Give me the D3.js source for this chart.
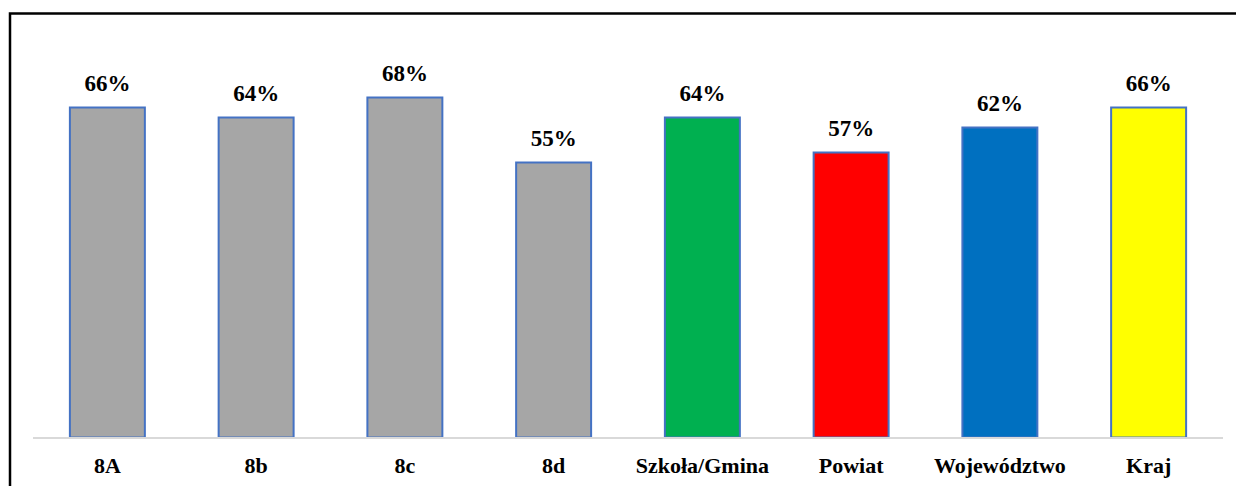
<!DOCTYPE html>
<html>
<head>
<meta charset="utf-8">
<script src="https://cdn.jsdelivr.net/npm/d3@7"></script>
<style>
  body { margin: 0; background: #fff; }
</style>
</head>
<body>
<script>
  const categories = ["8A", "8b", "8c", "8d", "Szkoła/Gmina", "Powiat", "Województwo", "Kraj"];
  const values = [0.66, 0.64, 0.68, 0.55, 0.64, 0.57, 0.62, 0.66];
  const colors = ["#a6a6a6", "#a6a6a6", "#a6a6a6", "#a6a6a6", "#00b050", "#ff0000", "#0070c0", "#ffff00"];

  const w = 1236;
  const h = 486;
  const font = "'Liberation Serif', 'Times New Roman', Times, 'DejaVu Serif', serif";

  const svg = d3.select("body")
                .append("svg")
                .attr("width", w)
                .attr("height", h);

  // chart frame (only top and left edges fall inside the picture)
  svg.append("path")
     .attr("d", `M10,${h} V13.5 H${w}`)
     .attr("fill", "none")
     .attr("stroke", "#000")
     .attr("stroke-width", 2.5);

  const x = d3.scaleBand()
              .domain(categories)
              .range([33, 1223])
              .paddingInner(0.496)
              .paddingOuter(0.248);

  const y = d3.scaleLinear()
              .domain([0, 0.8])
              .range([437.5, 37.5]);

  const data = categories.map((c, i) => ({ cat: c, val: values[i], color: colors[i] }));

  svg.selectAll("rect.bar")
     .data(data)
     .enter()
     .append("rect")
     .attr("class", "bar")
     .attr("x", d => x(d.cat))
     .attr("y", d => y(d.val))
     .attr("width", x.bandwidth())
     .attr("height", d => y(0) - y(d.val))
     .attr("fill", d => d.color)
     .attr("stroke", "#4472c4")
     .attr("stroke-width", 2);

  // category axis line
  svg.append("line")
     .attr("x1", 33)
     .attr("x2", 1223)
     .attr("y1", y(0) + 0.5)
     .attr("y2", y(0) + 0.5)
     .attr("stroke", "#d9d9d9")
     .attr("stroke-width", 2);

  svg.selectAll("text.val")
     .data(data)
     .enter()
     .append("text")
     .attr("class", "val")
     .attr("x", d => x(d.cat) + x.bandwidth() / 2)
     .attr("y", d => y(d.val) - 16.5)
     .attr("text-anchor", "middle")
     .attr("font-family", font)
     .attr("font-weight", "bold")
     .attr("font-size", "23px")
     .text(d => d3.format(".0%")(d.val));

  svg.selectAll("text.cat")
     .data(categories)
     .enter()
     .append("text")
     .attr("class", "cat")
     .attr("x", d => x(d) + x.bandwidth() / 2)
     .attr("y", 473)
     .attr("text-anchor", "middle")
     .attr("font-family", font)
     .attr("font-weight", "bold")
     .attr("font-size", "22px")
     .text(d => d);
</script>
</body>
</html>
